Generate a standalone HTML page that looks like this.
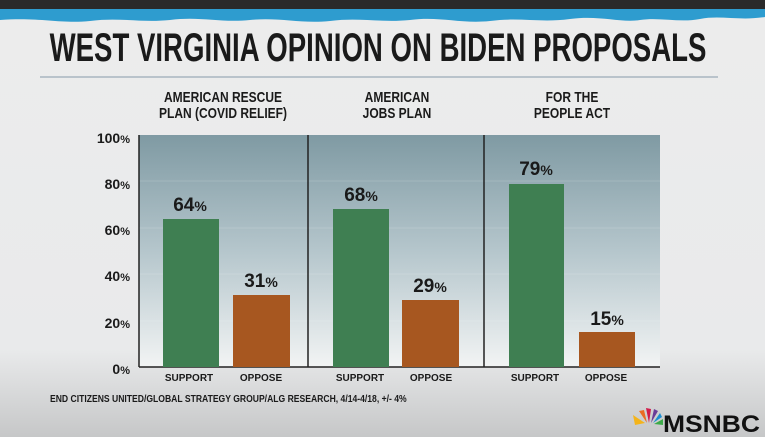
<!DOCTYPE html>
<html><head><style>
body{margin:0;width:765px;height:437px;overflow:hidden;background:#e6e7e8;font-family:"Liberation Sans",sans-serif;}
.abs{position:absolute}
.t{position:absolute;white-space:nowrap;font-weight:bold;color:#1a1a1a}
</style></head><body>
<div class="abs" style="left:0;top:0;width:765px;height:437px;background:linear-gradient(#ececec 0%,#e9eaeb 80%,#d4d5d6 92%,#c6c7c8 100%)"></div>
<div class="abs" style="left:0;top:0;width:765px;height:9px;background:#2a2a2a"></div>
<svg class="abs" style="left:0;top:9px" width="765" height="18"><path d="M0 0H765V8C740 12 720 6 700 10C680 14 660 8 640 11C620 14 600 6 570 10C540 14 520 8 490 12C460 15 440 7 410 11C380 14 360 8 330 12C300 15 280 8 250 11C220 14 200 7 170 11C140 14 120 8 90 12C60 15 40 8 0 11Z" fill="#2e9ccf"/></svg>
<div class="t" style="left:378px;top:27px;font-size:40px;line-height:42px;transform:translateX(-50%) scaleX(0.69)">WEST VIRGINIA OPINION ON BIDEN PROPOSALS</div>
<div class="abs" style="left:40px;top:76px;width:678px;height:2px;background:#b9c3cb"></div>
<div class="t" style="left:223px;top:90px;font-size:15px;line-height:16px;text-align:center;transform:translateX(-50%) scaleX(0.8)">AMERICAN RESCUE<br>PLAN (COVID RELIEF)</div>
<div class="t" style="left:397px;top:90px;font-size:15px;line-height:16px;text-align:center;transform:translateX(-50%) scaleX(0.8)">AMERICAN<br>JOBS PLAN</div>
<div class="t" style="left:572px;top:90px;font-size:15px;line-height:16px;text-align:center;transform:translateX(-50%) scaleX(0.8)">FOR THE<br>PEOPLE ACT</div>
<svg class="abs" style="left:0;top:0" width="765" height="437">
<defs><linearGradient id="bg" x1="0" y1="0" x2="0" y2="1"><stop offset="0" stop-color="#7f9aa3"/><stop offset="0.5" stop-color="#b5c6cc"/><stop offset="1" stop-color="#f2f4f4"/></linearGradient></defs>
<rect x="139" y="135" width="521" height="232" fill="url(#bg)"/>
<g stroke="#ffffff" stroke-opacity="0.15">
<line x1="139" y1="181" x2="660" y2="181"/><line x1="139" y1="228" x2="660" y2="228"/><line x1="139" y1="274" x2="660" y2="274"/><line x1="139" y1="321" x2="660" y2="321"/>
</g>
<line x1="308" y1="135" x2="308" y2="367" stroke="#222" stroke-width="1.5"/>
<line x1="484" y1="135" x2="484" y2="367" stroke="#222" stroke-width="1.5"/>
<line x1="139" y1="135" x2="139" y2="367" stroke="#222" stroke-width="1.5"/>
<line x1="139" y1="367" x2="660" y2="367" stroke="#222" stroke-width="1.5"/>
<g fill="#3f7f52">
<rect x="163" y="219" width="56" height="148"/><rect x="333" y="209" width="56" height="158"/><rect x="509" y="184" width="55" height="183"/>
</g>
<g fill="#a75720">
<rect x="233" y="295" width="57" height="72"/><rect x="402" y="300" width="57" height="67"/><rect x="579" y="332" width="56" height="35"/>
</g>
<g font-family="Liberation Sans" font-weight="bold" fill="#1a1a1a" text-anchor="end" font-size="14">
<text x="130" y="143">100<tspan font-size="11">%</tspan></text>
<text x="130" y="189">80<tspan font-size="11">%</tspan></text>
<text x="130" y="235">60<tspan font-size="11">%</tspan></text>
<text x="130" y="281">40<tspan font-size="11">%</tspan></text>
<text x="130" y="328">20<tspan font-size="11">%</tspan></text>
<text x="130" y="374">0<tspan font-size="11">%</tspan></text>
</g>
<g font-family="Liberation Sans" font-weight="bold" fill="#1a1a1a" text-anchor="middle" font-size="19">
<text x="190" y="211">64<tspan font-size="14">%</tspan></text>
<text x="261" y="287">31<tspan font-size="14">%</tspan></text>
<text x="361" y="201">68<tspan font-size="14">%</tspan></text>
<text x="430" y="292">29<tspan font-size="14">%</tspan></text>
<text x="536" y="175">79<tspan font-size="14">%</tspan></text>
<text x="607" y="325">15<tspan font-size="14">%</tspan></text>
</g>
<g font-family="Liberation Sans" font-weight="bold" fill="#1a1a1a" text-anchor="middle" font-size="10">
<text x="189" y="381">SUPPORT</text><text x="261" y="381">OPPOSE</text>
<text x="360" y="381">SUPPORT</text><text x="431" y="381">OPPOSE</text>
<text x="535" y="381">SUPPORT</text><text x="606" y="381">OPPOSE</text>
</g>
<text x="50" y="402" font-family="Liberation Sans" font-weight="bold" font-size="10" fill="#1a1a1a" transform="translate(50 0) scale(0.86 1) translate(-50 0)">END CITIZENS UNITED/GLOBAL STRATEGY GROUP/ALG RESEARCH, 4/14-4/18, +/- 4%</text>
<g transform="translate(645 423)">
<path d="M0 0L-12 -8L-10 2Z" fill="#f4b41a"/><path d="M2 0L-6 -12L-1 -13Z" fill="#ea6c23"/><path d="M4 0L1 -15L6 -14Z" fill="#d11c4a"/><path d="M6 0L9 -14L13 -12Z" fill="#6a3d98"/><path d="M8 0L15 -10L17 -6Z" fill="#1d8fd0"/><path d="M9 1L18 -4L18 2Z" fill="#3caa49"/>
</g>
<text x="663" y="432" font-family="Liberation Sans" font-weight="bold" font-size="24" fill="#111" textLength="97" lengthAdjust="spacingAndGlyphs">MSNBC</text>
</svg>
</body></html>
